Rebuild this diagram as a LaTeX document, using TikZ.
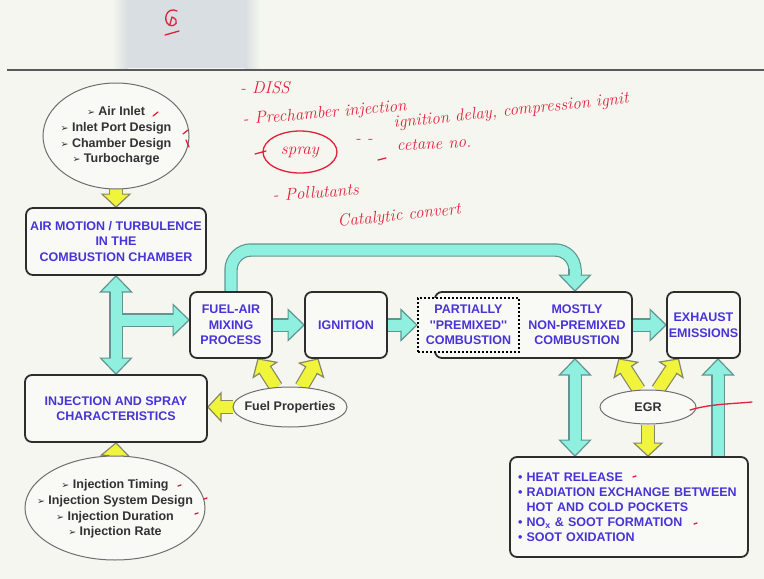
\documentclass[tikz,border=0pt]{standalone}
\usepackage{fontspec}
\newfontfamily\arial{Liberation Sans}
\newfontfamily\dejavu{DejaVu Sans}
\usetikzlibrary{calc,positioning,shapes.geometric}

\pgfdeclarelayer{bg}
\pgfdeclarelayer{arrows}
\pgfsetlayers{bg,arrows,main}

\definecolor{paper}{RGB}{245,246,239}
\definecolor{bandgray}{RGB}{216,222,225}
\definecolor{rulegray}{RGB}{88,90,94}
\definecolor{boxfill}{RGB}{249,250,246}
\definecolor{boxline}{RGB}{45,45,45}
\definecolor{bluetext}{RGB}{72,52,214}
\definecolor{ellline}{RGB}{110,110,110}
\definecolor{elltext}{RGB}{50,50,50}
\definecolor{cyanfill}{RGB}{143,240,224}
\definecolor{cyanline}{RGB}{95,150,145}
\definecolor{yelfill}{RGB}{240,245,60}
\definecolor{yelline}{RGB}{135,135,105}
\definecolor{inkred}{RGB}{226,32,58}

\newcommand{\boxfont}{\arial\bfseries\fontsize{12.5}{15.5}\selectfont}
\newcommand{\ovalfont}{\arial\bfseries\fontsize{12.5}{15.8}\selectfont}
\newcommand{\handfont}{\itshape\fontsize{17}{17}\selectfont}
\newcommand{\itemtip}{{\dejavu\fontsize{9.5}{9.5}\selectfont ➢}~}

% block arrow from #2 to #3, #1 = colour style
\newcommand{\fatarrow}[3]{%
  \begin{pgfonlayer}{arrows}
  \path[#1, draw=\arrline, line width=2*\arrsw+2.4]
    let \p1=#2, \p2=#3, \n1={atan2(\y2-\y1,\x2-\x1)}, \n2={veclen(\x2-\x1,\y2-\y1)} in
    [shift={(\p1)}, rotate=\n1] (0,0) -- ({\n2-\arrhl+1},0);
  \path[#1, draw=\arrfill, line width=2*\arrsw]
    let \p1=#2, \p2=#3, \n1={atan2(\y2-\y1,\x2-\x1)}, \n2={veclen(\x2-\x1,\y2-\y1)} in
    [shift={(\p1)}, rotate=\n1] (0,0) -- ({\n2-\arrhl+1},0);
  \path[#1, fill=\arrfill, draw=\arrline, line width=1.2, line join=miter]
    let \p1=#2, \p2=#3, \n1={atan2(\y2-\y1,\x2-\x1)}, \n2={veclen(\x2-\x1,\y2-\y1)} in
    [shift={(\p1)}, rotate=\n1]
    ({\n2-\arrhl},\arrsw) -- ({\n2-\arrhl},\arrhw) -- (\n2,0) -- ({\n2-\arrhl},-\arrhw) -- ({\n2-\arrhl},-\arrsw);
  \end{pgfonlayer}}

% same, with a head at both ends
\newcommand{\fatdouble}[3]{%
  \begin{pgfonlayer}{arrows}
  \path[#1, draw=\arrline, line width=2*\arrsw+2.4]
    let \p1=#2, \p2=#3, \n1={atan2(\y2-\y1,\x2-\x1)}, \n2={veclen(\x2-\x1,\y2-\y1)} in
    [shift={(\p1)}, rotate=\n1] ({\arrhl-1},0) -- ({\n2-\arrhl+1},0);
  \path[#1, draw=\arrfill, line width=2*\arrsw]
    let \p1=#2, \p2=#3, \n1={atan2(\y2-\y1,\x2-\x1)}, \n2={veclen(\x2-\x1,\y2-\y1)} in
    [shift={(\p1)}, rotate=\n1] ({\arrhl-1},0) -- ({\n2-\arrhl+1},0);
  \path[#1, fill=\arrfill, draw=\arrline, line width=1.2, line join=miter]
    let \p1=#2, \p2=#3, \n1={atan2(\y2-\y1,\x2-\x1)}, \n2={veclen(\x2-\x1,\y2-\y1)} in
    [shift={(\p1)}, rotate=\n1]
    ({\n2-\arrhl},\arrsw) -- ({\n2-\arrhl},\arrhw) -- (\n2,0) -- ({\n2-\arrhl},-\arrhw) -- ({\n2-\arrhl},-\arrsw)
    (\arrhl,\arrsw) -- (\arrhl,\arrhw) -- (0,0) -- (\arrhl,-\arrhw) -- (\arrhl,-\arrsw);
  \end{pgfonlayer}}

\begin{document}
\begin{tikzpicture}[x=1pt, y=-1pt,
  box/.style={draw=boxline, line width=1.8pt, rounded corners=7pt, fill=boxfill, text=bluetext, font=\boxfont, align=center, inner sep=1pt},
  oval/.style={ellipse, draw=ellline, line width=1pt, fill=boxfill, inner sep=0pt},
  ovaltext/.style={text=elltext, font=\ovalfont, align=center, inner sep=0pt},
  cyanarrow/.style={/utils/exec={\def\arrfill{cyanfill}\def\arrline{cyanline}\def\arrsw{5.5}\def\arrhw{15.5}\def\arrhl{16}}},
  yelarrow/.style={/utils/exec={\def\arrfill{yelfill}\def\arrline{yelline}\def\arrsw{6}\def\arrhw{14}\def\arrhl{13}}},
  hand/.style={text=inkred, font=\handfont, inner sep=0pt},
  ink/.style={draw=inkred, line width=1.3pt, line cap=round, line join=round}]

\useasboundingbox (0,0) rectangle (764,579);
\begin{pgfonlayer}{bg}
  \fill[paper] (0,0) rectangle (764,579);
  \fill[bandgray] (128,0) rectangle (245,68);
  \shade[left color=paper, right color=bandgray] (112,0) rectangle (128,68);
  \shade[left color=bandgray, right color=paper] (245,0) rectangle (260,68);
  \draw[rulegray, line width=2.5pt] (7,70) -- (764,70);
\end{pgfonlayer}

\node[oval, minimum width=146, minimum height=106,
  label={[ovaltext]center:{\itemtip Air Inlet\\ \itemtip Inlet Port Design\\ \itemtip Chamber Design\\ \itemtip Turbocharge}}]
  (airell) at (116,136) {};
\node[box, minimum width=180, minimum height=67] (airbox) at (116,241.5) {AIR MOTION / TURBULENCE\\ IN THE\\ COMBUSTION CHAMBER};
\node[box, minimum width=182, minimum height=67] (injbox) at (116,408.5) {INJECTION AND SPRAY\\ CHARACTERISTICS};
\node[oval, minimum width=180, minimum height=104,
  label={[ovaltext, yshift=-1]center:{\itemtip Injection Timing\\ \itemtip Injection System Design\\ \itemtip Injection Duration\\ \itemtip Injection Rate}}]
  (injell) at (115,508) {};

\node[box, minimum width=82, minimum height=66] (fuelbox) at (231,325) {FUEL-AIR\\ MIXING\\ PROCESS};
\node[box, minimum width=82, minimum height=66] (ignbox) at (346,325) {IGNITION};
\node[box, minimum width=197, minimum height=66] (combo) at (533.5,325) {};
\node[text=bluetext, font=\boxfont, align=center] (combotext) at (577,325) {MOSTLY\\ NON-PREMIXED\\ COMBUSTION};
\node[box, rounded corners=0pt, draw=black, line width=2.2pt, dash pattern=on 2.4pt off 1.6pt, minimum width=101, minimum height=54] (partial) at (468.5,325) {PARTIALLY\\ ''PREMIXED''\\ COMBUSTION};
\node[box, minimum width=73, minimum height=66] (exhbox) at (703.5,325) {EXHAUST\\ EMISSIONS};

\node[oval, minimum width=114, minimum height=40, label={[ovaltext]center:Fuel Properties}] (fuelell) at (290,407) {};
\node[oval, minimum width=96, minimum height=34, label={[ovaltext]center:EGR}] (egrell) at (648,407) {};

\node[box, minimum width=238, minimum height=100, text width=222, align=left, inner xsep=8pt, font=\arial\bfseries\fontsize{12.5}{15}\selectfont] (heatbox) at (629,507)
  {\textbullet\ HEAT RELEASE\\
   \textbullet\ RADIATION EXCHANGE BETWEEN\\
   \phantom{\textbullet\ }HOT AND COLD POCKETS\\
   \textbullet\ NO\textsubscript{x} \& SOOT FORMATION\\
   \textbullet\ SOOT OXIDATION};

\coordinate (tee) at (116,320);
\coordinate (loopend) at ([xshift=41.5]combo.north);
\coordinate (looptop) at (loopend |- 0,250);
\coordinate (loopbase) at ([yshift=22]loopend);
\coordinate (heatup) at ([xshift=41.5]combo.south);
\coordinate (exhup) at ([xshift=14.5]exhbox.south);

\fatarrow{cyanarrow}{(tee)}{(tee -| fuelbox.west)}
\fatdouble{cyanarrow}{(airbox.south)}{(injbox.north)}
\begin{pgfonlayer}{arrows}
  \draw[cyanfill, line width=11] (tee) -- ++(9,0);
  \draw[cyanline, line width=13.4, rounded corners=20] (fuelbox.north) |- (looptop) -- (loopbase);
  \draw[cyanfill, line width=11, rounded corners=20] (fuelbox.north) |- (looptop) -- (loopbase);
\end{pgfonlayer}
\fatarrow{cyanarrow}{(loopbase)}{(loopend)}
\fatarrow{cyanarrow}{(fuelbox.east)}{(ignbox.west)}
\fatarrow{cyanarrow}{(ignbox.east)}{(partial.west)}
\fatarrow{cyanarrow}{(combo.east)}{(exhbox.west)}
\fatdouble{cyanarrow}{(heatup)}{(heatup |- heatbox.north)}
\fatarrow{cyanarrow}{(exhup |- heatbox.north)}{(exhup)}

\fatarrow{yelarrow}{([yshift=6]airell.south)}{(airbox.north)}
\fatarrow{yelarrow}{([yshift=-6]injell.north)}{(injbox.south)}
\fatarrow{yelarrow}{(fuelell.125)}{([xshift=27]fuelbox.south)}
\fatarrow{yelarrow}{(fuelell.60)}{([xshift=-28]ignbox.south)}
\fatarrow{yelarrow}{(fuelell.west)}{(injbox.east |- fuelell.west)}
\fatarrow{yelarrow}{(egrell.118)}{([xshift=-14]combo.south east)}
\fatarrow{yelarrow}{(egrell.60)}{([xshift=-25]exhbox.south)}
\fatarrow{yelarrow}{(egrell.south)}{(egrell.south |- heatbox.north)}

\draw[ink] (177,11) .. controls (167,6) and (162,20) .. (169,25) .. controls (176,28) and (180,20) .. (172,17) -- (170,24);
\draw[ink] (165,35) -- (179,31);
\node[hand, anchor=base west] (dss) at (240,93) {- DISS};
\node[hand, anchor=base west, rotate=5] (prech) at (243,125) {- Prechamber injection};
\node[hand] (spray) at (300,152) {spray};
\draw[ink] (spray) ellipse [x radius=37, y radius=21];
\draw[ink] (255,154) -- (266,151);
\node[hand] (dots) at (364,141) {- -};
\node[hand, anchor=base west, rotate=6] (ignit) at (394,128) {ignition delay, compression ignit};
\draw[ink] (378,160) -- (386,158);
\node[hand, anchor=base west, rotate=3] (cetane) at (397,151) {cetane no.};
\node[hand, anchor=base west, rotate=4] (pollut) at (273,201) {- Pollutants};
\node[hand, anchor=base west, rotate=6] (catal) at (338,227) {Catalytic convert};

\draw[ink] (153,116) -- (158,112);
\draw[ink] (183,134) -- (188,130);
\draw[ink] (186,140) -- (189,147);
\foreach \px/\py in {178/486, 204/499, 195/514, 633/477, 694/524}
  \draw[ink] (\px,\py) -- ++(3,-1);
\draw[ink] (690,410) .. controls (710,404) and (730,404) .. (752,402);
\end{tikzpicture}
\end{document}
